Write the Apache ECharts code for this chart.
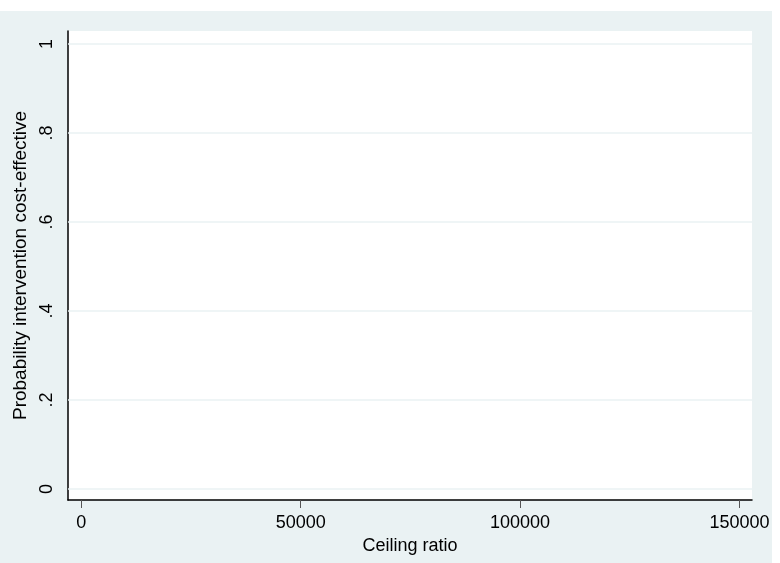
<!DOCTYPE html>
<html>
<head>
<meta charset="utf-8">
<script src="https://cdn.jsdelivr.net/npm/echarts@6/dist/echarts.min.js"></script>
<style>
  html, body { margin: 0; padding: 0; background: #fff; }
  #main { width: 780px; height: 563px; }
</style>
</head>
<body>
<div id="main"></div>
<script>
// axis ranges and ticks (Stata-style padding around 0..1 and 0..150000)
const xTicks = [0, 50000, 100000, 150000];
const yTicks = [0, 0.2, 0.4, 0.6, 0.8, 1];
const yTickLabels = ['0', '.2', '.4', '.6', '.8', '1'];
const xRange = [-3031, 152849];
const yRange = [-0.0247, 1.029];
// the curve itself: nothing plotted in the reference
const ceiling = [];
const probability = [];

const font = 'Liberation Sans, Arial, sans-serif';
let myChart = echarts.init(document.getElementById('main'));

myChart.setOption({
  animation: false,
  backgroundColor: '#fff',
  graphic: [{
    type: 'rect',
    z: -10,
    silent: true,
    shape: { x: 0, y: 11, width: 772, height: 552 },
    style: { fill: '#eaf2f3' }
  }],
  grid: {
    left: 68, top: 31, right: 28, bottom: 63,
    show: true, backgroundColor: '#fff', borderWidth: 0
  },
  xAxis: {
    type: 'value',
    min: xRange[0], max: xRange[1],
    name: 'Ceiling ratio',
    nameLocation: 'middle',
    nameGap: 33,
    nameTextStyle: { color: '#000', fontSize: 18, fontFamily: font },
    axisLine: { onZero: false, lineStyle: { color: '#000', width: 1.5 } },
    axisTick: { customValues: xTicks, length: 8, lineStyle: { color: '#555', width: 1 } },
    axisLabel: {
      customValues: xTicks, color: '#000', fontSize: 18, fontFamily: font, margin: 14,
      formatter: v => String(v)
    },
    splitLine: { show: false }
  },
  yAxis: {
    type: 'value',
    min: yRange[0], max: yRange[1],
    name: 'Probability intervention cost-effective',
    nameLocation: 'middle',
    nameGap: 30,
    nameTextStyle: { color: '#000', fontSize: 19, fontFamily: font },
    axisLine: { show: true, onZero: false, lineStyle: { color: '#000', width: 1.5 } },
    axisTick: { show: false },
    axisLabel: {
      customValues: yTicks,
      rotate: 90,
      color: '#000', fontSize: 18, fontFamily: font, margin: 12,
      formatter: v => yTickLabels[yTicks.findIndex(t => Math.abs(t - v) < 1e-9)] ?? ''
    },
    splitLine: { show: false }
  },
  series: [{
    type: 'line',
    data: ceiling.map((c, i) => [c, probability[i]]),
    symbol: 'none',
    lineStyle: { color: '#1a476f' },
    markLine: {
      silent: true,
      symbol: 'none',
      label: { show: false },
      lineStyle: { color: '#eaf2f3', width: 1.5, type: 'solid' },
      data: yTicks.map(t => ({ yAxis: t }))
    }
  }]
});
</script>
</body>
</html>
